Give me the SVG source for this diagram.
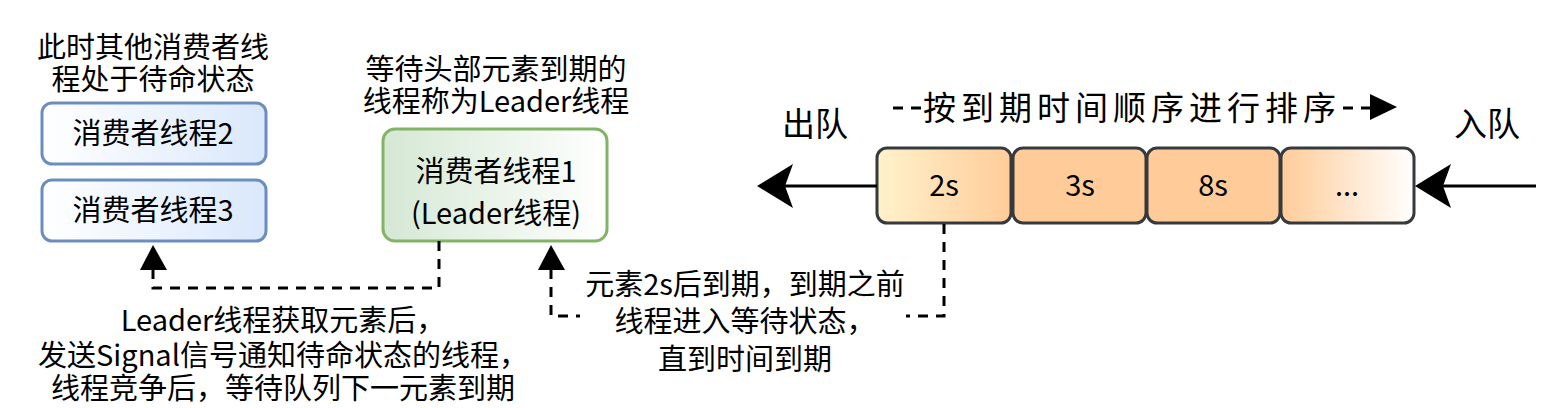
<svg xmlns="http://www.w3.org/2000/svg" width="1550" height="408" viewBox="0 0 1550 408">
<style>
text{font-family:"Noto Sans CJK SC","Noto Sans",sans-serif;fill:#000;text-anchor:middle}
.t28{font-size:29px}
.t33{font-size:33px}
.blue{stroke:#6c8ebf;stroke-width:3;fill:url(#gBlue)}
.green{stroke:#82b366;stroke-width:3;fill:url(#gGreen)}
.q{stroke:#36393d;stroke-width:3}
.dash{fill:none;stroke:#000;stroke-width:3;stroke-dasharray:10 8}
.solid{fill:none;stroke:#000;stroke-width:3}
</style>
<defs>
<linearGradient id="gBlue" x1="0" y1="0" x2="1" y2="0"><stop offset="0" stop-color="#ffffff"/><stop offset="1" stop-color="#dae8fc"/></linearGradient>
<linearGradient id="gGreen" x1="0" y1="0" x2="1" y2="0"><stop offset="0" stop-color="#d5e8d4"/><stop offset="1" stop-color="#ffffff"/></linearGradient>
<linearGradient id="gFirst" x1="0" y1="0" x2="1" y2="0"><stop offset="0" stop-color="#fff2cc"/><stop offset="1" stop-color="#ffcc99"/></linearGradient>
<linearGradient id="gLast" x1="0" y1="0" x2="1" y2="0"><stop offset="0" stop-color="#ffcc99"/><stop offset="1" stop-color="#ffffff"/></linearGradient>
</defs>

<g id="note-standby">
<text class="t28" x="153" y="58"><tspan x="153">此时其他消费者线</tspan><tspan x="153" dy="32">程处于待命状态</tspan></text>
</g>
<g id="consumer2">
<rect class="blue" x="42" y="103" width="224" height="61" rx="10"/>
<text class="t28" x="153" y="144">消费者线程2</text>
</g>
<g id="consumer3">
<rect class="blue" x="42" y="180" width="224" height="61" rx="10"/>
<text class="t28" x="153" y="221">消费者线程3</text>
</g>
<g id="note-leader">
<text class="t28" x="496" y="80"><tspan x="496">等待头部元素到期的</tspan><tspan x="496" dy="32">线程称为Leader线程</tspan></text>
</g>
<g id="consumer1">
<rect class="green" x="383" y="129" width="224" height="112" rx="12"/>
<text class="t28" x="496" y="182"><tspan x="496">消费者线程1</tspan><tspan x="496" dy="42">(Leader线程)</tspan></text>
</g>

<g id="queue">
<g id="q-2s"><rect class="q" fill="url(#gFirst)" x="877" y="148" width="134" height="75" rx="10"/><text class="t28" x="944" y="196">2s</text></g>
<g id="q-3s"><rect class="q" fill="#ffcc99" x="1013" y="148" width="133" height="75" rx="10"/><text class="t28" x="1080" y="196">3s</text></g>
<g id="q-8s"><rect class="q" fill="#ffcc99" x="1147" y="148" width="133" height="75" rx="10"/><text class="t28" x="1213" y="196">8s</text></g>
<g id="q-more"><rect class="q" fill="url(#gLast)" x="1281" y="148" width="133" height="75" rx="10"/><text class="t28" x="1347" y="196">...</text></g>
</g>

<g id="label-out"><text class="t33" x="815" y="136">出队</text></g>
<g id="label-in"><text class="t33" x="1487" y="136">入队</text></g>

<g id="connectors">
<path class="solid" d="M877 186 H785"/>
<path d="M757 186 L793 164 L785 186 L793 208 Z" fill="#000"/>
<path class="solid" d="M1536 186 H1442"/>
<path d="M1415 186 L1451 164 L1443 186 L1451 208 Z" fill="#000"/>
<path class="dash" d="M893 108 H1370"/>
<path d="M1397 107 L1370 94 L1370 120 Z" fill="#000"/>
<rect x="921" y="88" width="422" height="40" fill="#fff"/>
<text class="t33" x="1132" y="120" style="letter-spacing:5px">按到期时间顺序进行排序</text>
<path class="dash" d="M439 241 V288 H153 V270"/>
<path d="M153 245 L167 270 L140 270 Z" fill="#000"/>
<path class="dash" d="M944 224 V316 H551 V270"/>
<path d="M551 245 L565 270 L538 270 Z" fill="#000"/>
<rect x="580" y="266" width="326" height="110" fill="#fff"/>
</g>

<g id="note-wait">
<text class="t28" x="745" y="295"><tspan x="745">元素2s后到期，到期之前</tspan><tspan x="745" dy="37">线程进入等待状态，</tspan><tspan x="745" dy="38">直到时间到期</tspan></text>
</g>
<g id="note-signal">
<text class="t28" x="283" y="331"><tspan x="283">Leader线程获取元素后，</tspan><tspan x="283" dy="35">发送Signal信号通知待命状态的线程，</tspan><tspan x="283" dy="33">线程竞争后，等待队列下一元素到期</tspan></text>
</g>
</svg>
